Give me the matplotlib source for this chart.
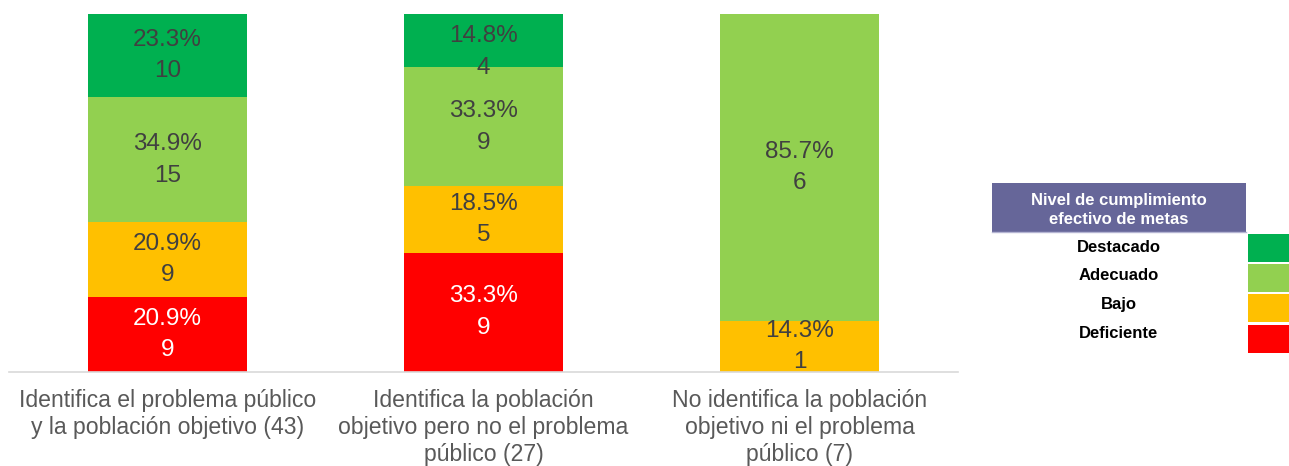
import matplotlib.pyplot as plt
import matplotlib.patches as mpatches
import numpy as np

plt.rcParams['font.family'] = ['Liberation Sans', 'DejaVu Sans']

categories = ["Identifica el problema público\ny la población objetivo (43)",
              "Identifica la población\nobjetivo pero no el problema\npúblico (27)",
              "No identifica la población\nobjetivo ni el problema\npúblico (7)"]
levels = ["Deficiente", "Bajo", "Adecuado", "Destacado"]
colors = ["#FF0000", "#FFC000", "#92D050", "#00B050"]
text_colors = ["white", "#404040", "#404040", "#404040"]

deficiente = [9, 9, 0]
bajo = [9, 5, 1]
adecuado = [15, 9, 6]
destacado = [10, 4, 0]

counts = np.array([deficiente, bajo, adecuado, destacado], dtype=float)
totals = counts.sum(axis=0)
shares = counts / totals

fig = plt.figure(figsize=(12.89, 4.66), dpi=100)
ax = fig.add_axes([0.00737, 0.2017, 0.7355, 0.7683])
ax_px = 0.7683 * 466  # axes height in pixels

x = np.arange(len(categories))
bottom = np.zeros(len(categories))
for i, lev in enumerate(levels):
    ax.bar(x, shares[i], 0.503, bottom=bottom, color=colors[i], edgecolor="none")
    for j in range(len(categories)):
        if counts[i, j] > 0:
            yc = bottom[j] + shares[i, j] / 2
            # keep the two-line label inside the plot top
            yc = min(yc, 1 - 38 / ax_px)
            ax.text(x[j], yc,
                    f"{shares[i, j] * 100:.1f}%\n{int(counts[i, j])}",
                    ha="center", va="center", fontsize=17.5, color=text_colors[i],
                    linespacing=1.57)
    bottom += shares[i]

ax.set_xlim(-0.5, 2.5)
ax.set_ylim(0, 1)
ax.set_yticks([])
ax.set_xticks(x)
ax.set_xticklabels(categories, fontsize=16.6, color="#595959", linespacing=1.22)
ax.tick_params(axis="x", length=0, pad=12)
for s in ["top", "left", "right"]:
    ax.spines[s].set_visible(False)
ax.spines["bottom"].set_color("#D9D9D9")
ax.spines["bottom"].set_linewidth(1.2)

# legend drawn as a small table on the right
W, H = 1289, 466
def fx(px):
    return px / W
def fy(py):
    return 1 - py / H

fig.patches.append(mpatches.Rectangle((fx(992), fy(232)), fx(1246) - fx(992), fy(183) - fy(232),
                                      transform=fig.transFigure, facecolor="#666699", edgecolor="none"))
fig.lines.append(plt.Line2D([fx(992), fx(1246)], [fy(232.5), fy(232.5)], transform=fig.transFigure,
                            color="#B4B4D2", lw=1))
fig.text(fx(1119), fy(210), "Nivel de cumplimiento\nefectivo de metas", ha="center", va="center",
         fontsize=12, fontweight="bold", color="white", linespacing=1.33)

legend_rows = ["Destacado", "Adecuado", "Bajo", "Deficiente"]
legend_colors = ["#00B050", "#92D050", "#FFC000", "#FF0000"]
row_y = [247, 275, 305, 334]
sw_top = [234, 264, 294, 325]
for name, col, yy, st in zip(legend_rows, legend_colors, row_y, sw_top):
    fig.text(fx(1119), fy(yy), name, ha="center", va="center", fontsize=12,
             fontweight="bold", color="black")
    fig.patches.append(mpatches.Rectangle((fx(1248), fy(st + 28)), fx(1289) - fx(1248), 28 / H,
                                          transform=fig.transFigure, facecolor=col, edgecolor="none"))

fig.savefig("out.png", dpi=100)
